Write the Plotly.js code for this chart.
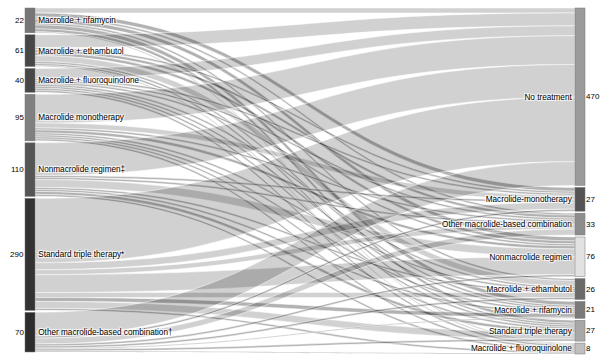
<!DOCTYPE html>
<html><head><meta charset="utf-8">
<script src="https://cdn.plot.ly/plotly-3.0.1.min.js"></script>
<style>html,body{margin:0;padding:0;background:#fff}#chart{width:600px;height:363px}</style>
</head><body><div id="chart"></div>
<script>
// ---- data ----
const leftLabels = ["Macrolide + rifamycin", "Macrolide + ethambutol", "Macrolide + fluoroquinolone",
  "Macrolide monotherapy", "Nonmacrolide regimen\u2021", "Standard triple therapy*", "Other macrolide-based combination\u2020"];
const leftCounts = [22, 61, 40, 95, 110, 290, 70];
const rightLabels = ["No treatment", "Macrolide-monotherapy", "Other macrolide-based combination",
  "Nonmacrolide regimen", "Macrolide + ethambutol", "Macrolide + rifamycin", "Standard triple therapy",
  "Macrolide + fluoroquinolone"];
const rightCounts = [470, 27, 33, 76, 26, 21, 27, 8];
// band widths; order of targets = rightLabels
const fromRifamycin   = [5, 4, 2, 4, 2, 4, 3, 1];
const fromEthambutol  = [13, 2, 3, 3, 6, 2, 2, 1];
const fromFluoro      = [10, 2, 2, 2, 2, 2, 2, 2];
const fromMonotherapy = [29, 5, 2, 3, 2, 2, 2, 2];
const fromNonmacro    = [33, 2, 2, 8, 2, 2, 3, 2];
const fromStandard    = [65, 7, 5, 18, 5, 4, 7, 2];
const fromOther       = [24, 2, 6, 2, 2, 1, 2, 1];
const flows = [fromRifamycin, fromEthambutol, fromFluoro, fromMonotherapy, fromNonmacro, fromStandard, fromOther];

// ---- styles ----
const leftColors = ["#767676", "#474747", "#474747", "#808080", "#555555", "#333333", "#2d2d2d"];
const rightColors = ["#9b9b9b", "#545454", "#8d8d8d", "#e2e2e2", "#6a6a6a", "#7a7a7a", "#a8a8a8", "#bfbfbf"];
const W = 600, H = 363, M = {l: 25, r: 15, t: 8, b: 9};
const pw = W - M.l - M.r, ph = H - M.t - M.b;
const thick = 10, pad = 2;
const FONT = "Liberation Sans, Arial, sans-serif";

const nL = leftLabels.length, nR = rightLabels.length;
const source = [], target = [], value = [], lcolor = [];
flows.forEach((row, i) => row.forEach((v, j) => {
  source.push(i); target.push(nL + j); value.push(v);
  lcolor.push(v <= 4 ? "rgba(0,0,0,0.30)" : "rgba(0,0,0,0.18)");
}));
const leftSums = flows.map(r => r.reduce((a, b) => a + b, 0));
const rightSums = rightLabels.map((_, j) => flows.reduce((a, r) => a + r[j], 0));
const ky = Math.min((ph - (nL - 1) * pad) / leftSums.reduce((a, b) => a + b),
                    (ph - (nR - 1) * pad) / rightSums.reduce((a, b) => a + b));
function centers(sums) {
  const out = []; let y = 0;
  sums.forEach(s => { const h = s * ky; out.push((y + h / 2) / ph); y += h + pad; });
  return out;
}
const cL = centers(leftSums), cR = centers(rightSums);
const nodeX = [...cL.map(() => (thick / 2) / pw), ...cR.map(() => 1 - (thick / 2) / pw)];
const nodeY = [...cL, ...cR];

const numFont = {family: FONT, size: 8, color: "#000"};
const annotations = [];
leftCounts.forEach((c, i) => annotations.push({xref: "paper", yref: "paper", x: 0, y: 1 - cL[i],
  xanchor: "right", yanchor: "middle", xshift: 0, borderpad: 0, text: String(c), showarrow: false, font: numFont}));
rightCounts.forEach((c, j) => annotations.push({xref: "paper", yref: "paper", x: 1, y: 1 - cR[j],
  xanchor: "left", yanchor: "middle", xshift: 0, borderpad: 0, text: String(c), showarrow: false, font: numFont}));

Plotly.newPlot("chart", [{
  type: "sankey",
  arrangement: "fixed",
  hoverinfo: "none",
  node: {
    label: [...leftLabels, ...rightLabels],
    color: [...leftColors, ...rightColors],
    x: nodeX, y: nodeY,
    pad: pad, thickness: thick,
    line: {color: "#777", width: 0.5},
    hoverinfo: "none"
  },
  link: {source, target, value, color: lcolor, line: {color: "#fff", width: 0.5}, hoverinfo: "none"},
  textfont: {family: FONT, size: 8.2, color: "#000"}
}], {
  width: W, height: H, margin: M, paper_bgcolor: "#fff", plot_bgcolor: "#fff",
  font: {family: FONT, size: 8.2, color: "#000"},
  annotations
}, {displayModeBar: false, staticPlot: true});
</script></body></html>
